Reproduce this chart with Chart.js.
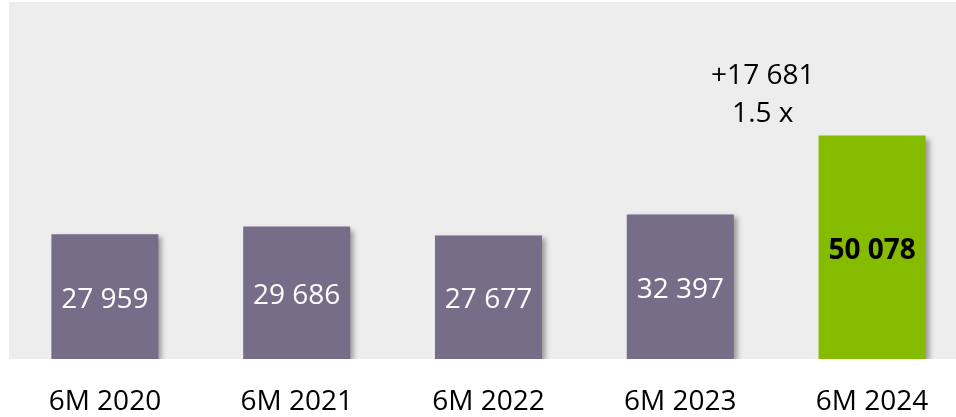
<!DOCTYPE html>
<html>
<head>
<meta charset="utf-8">
<script src="https://cdn.jsdelivr.net/npm/chart.js@4"></script>
<style>
    html, body { margin: 0; padding: 0; background: #ffffff; overflow: hidden; }
    #wrap { width: 968px; height: 417px; position: relative; }
</style>
</head>
<body>
<div id="wrap"><canvas id="myBarChart"></canvas></div>
<script>
// Chart data
const categories = ['6M 2020', '6M 2021', '6M 2022', '6M 2023', '6M 2024'];
const values = [27959, 29686, 27677, 32397, 50078];
const valueLabels = ['27 959', '29 686', '27 677', '32 397', '50 078'];
const growthLabels = ['+17 681', '1.5 x'];

const purple = '#776d89';
const green = '#85bc00';

// Grey plot background + bar shadows + labels
const decorPlugin = {
    id: 'decor',
    beforeDraw(chart) {
        const ctx = chart.ctx;
        const area = chart.chartArea;
        ctx.save();
        ctx.fillStyle = '#ededed';
        ctx.fillRect(area.left, area.top, area.right - area.left, area.bottom - area.top);
        ctx.restore();
    },
    beforeDatasetsDraw(chart) {
        const ctx = chart.ctx;
        ctx.save();
        ctx.shadowColor = 'rgba(0, 0, 0, 0.35)';
        ctx.shadowOffsetX = 4;
        ctx.shadowOffsetY = 3;
        ctx.shadowBlur = 5;
    },
    afterDatasetsDraw(chart) {
        const ctx = chart.ctx;
        ctx.restore();

        const meta = chart.getDatasetMeta(0);
        ctx.save();
        ctx.textAlign = 'center';
        ctx.textBaseline = 'middle';
        meta.data.forEach((bar, i) => {
            const last = i === values.length - 1;
            ctx.font = last ? 'bold 28px "Open Sans"' : '28px "Open Sans"';
            ctx.fillStyle = last ? '#000000' : '#ffffff';
            const y = (bar.y + bar.base) / 2 + (last ? 4 : 3);
            ctx.fillText(valueLabels[i], bar.x, y);
        });

        // growth annotation between the last two bars
        const x = chart.scales.x.getPixelForValue(3.43);
        const yScale = chart.scales.y;
        ctx.font = '28px "Open Sans"';
        ctx.fillStyle = '#000000';
        ctx.fillText(growthLabels[0], x, yScale.getPixelForValue(63300));
        ctx.fillText(growthLabels[1], x, yScale.getPixelForValue(54800));
        ctx.restore();
    }
};

const ctx = document.getElementById('myBarChart');
new Chart(ctx, {
    type: 'bar',
    data: {
        labels: categories,
        datasets: [{
            data: values,
            backgroundColor: values.map((v, i) => i === values.length - 1 ? green : purple),
            borderWidth: 0,
            barPercentage: 0.558,
            categoryPercentage: 1
        }]
    },
    options: {
        responsive: true,
        maintainAspectRatio: false,
        animation: false,
        layout: {
            padding: { left: 9, top: 2, right: 0, bottom: 0 }
        },
        plugins: {
            legend: { display: false },
            tooltip: { enabled: false }
        },
        scales: {
            x: {
                grid: { display: false, drawTicks: false },
                border: { display: false },
                ticks: {
                    color: '#000000',
                    font: { family: '"Open Sans"', size: 28 },
                    padding: 26,
                    maxRotation: 0
                },
                afterFit(scale) { scale.height = 58; }
            },
            y: {
                display: false,
                min: 0,
                max: 80000
            }
        }
    },
    plugins: [decorPlugin]
});
</script>
</body>
</html>
